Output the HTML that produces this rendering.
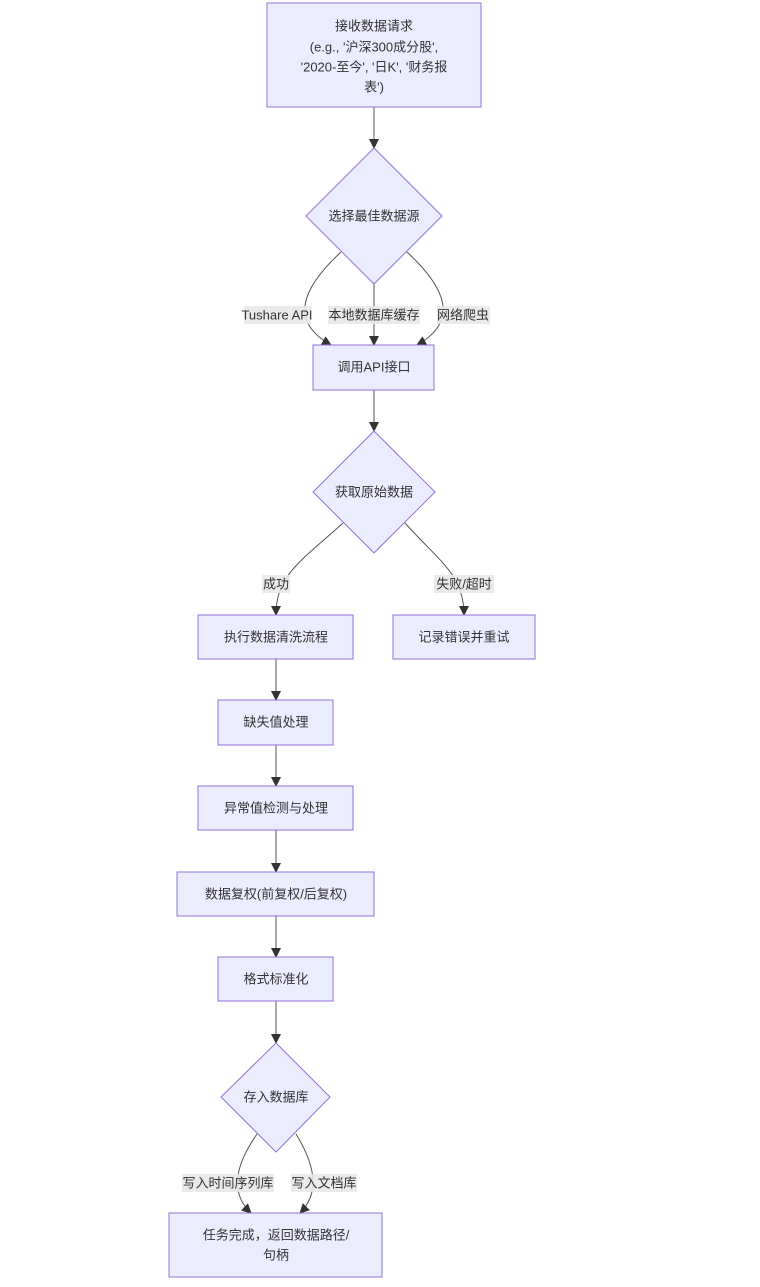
<!DOCTYPE html>
<html><head><meta charset="utf-8"><style>
body{margin:0;background:#fff;}
svg{display:block;}
text{font-family:"Liberation Sans","Noto Sans CJK SC",sans-serif;font-size:13px;fill:#333;text-anchor:middle;dominant-baseline:central;}
.n{fill:#ECECFF;stroke:#9370DB;stroke-width:1;}
.e{fill:none;stroke:#555;stroke-width:1;}
.lb{fill:#e8e8e8;opacity:0.9;}
</style></head><body>
<svg width="760" height="1287" viewBox="0 0 760 1287">
<defs><marker id="a" markerWidth="10" markerHeight="10" refX="9" refY="5" orient="auto" markerUnits="userSpaceOnUse"><path d="M0,0L10,5L0,10z" fill="#333"/></marker></defs>
<!-- edges -->
<path class="e" d="M374,107V148" marker-end="url(#a)"/>
<path class="e" d="M341,252C300,290 290,322 331,345" marker-end="url(#a)"/>
<path class="e" d="M374,284V345" marker-end="url(#a)"/>
<path class="e" d="M407,252C448,290 458,322 417,345" marker-end="url(#a)"/>
<path class="e" d="M374,390V431" marker-end="url(#a)"/>
<path class="e" d="M343,523C300,562 276,575 276,615" marker-end="url(#a)"/>
<path class="e" d="M405,523C440,562 464,575 464,615" marker-end="url(#a)"/>
<path class="e" d="M276,659V700" marker-end="url(#a)"/>
<path class="e" d="M276,745V786" marker-end="url(#a)"/>
<path class="e" d="M276,830V872" marker-end="url(#a)"/>
<path class="e" d="M276,916V957" marker-end="url(#a)"/>
<path class="e" d="M276,1001V1043" marker-end="url(#a)"/>
<path class="e" d="M257,1134C232,1170 232,1195 251,1213" marker-end="url(#a)"/>
<path class="e" d="M296,1134C318,1170 318,1195 300,1213" marker-end="url(#a)"/>
<!-- labels -->
<rect class="lb" x="244" y="306" width="67" height="18"/><text x="277" y="315">Tushare API</text>
<rect class="lb" x="328" y="306" width="92" height="18"/><text x="374" y="315">本地数据库缓存</text>
<rect class="lb" x="437" y="306" width="53" height="18"/><text x="463" y="315">网络爬虫</text>
<rect class="lb" x="262" y="575" width="28" height="18"/><text x="276" y="584">成功</text>
<rect class="lb" x="434" y="575" width="60" height="18"/><text x="464" y="584">失败/超时</text>
<rect class="lb" x="182" y="1174" width="92" height="18"/><text x="228" y="1183">写入时间序列库</text>
<rect class="lb" x="291" y="1174" width="66" height="18"/><text x="324" y="1183">写入文档库</text>
<!-- nodes -->
<rect class="n" x="267" y="3" width="214" height="104"/>
<text x="374" y="26">接收数据请求</text>
<text x="374" y="47">(e.g., '沪深300成分股',</text>
<text x="374" y="67">'2020-至今', '日K', '财务报</text>
<text x="374" y="87">表')</text>
<polygon class="n" points="374,148 442,216 374,284 306,216"/><text x="374" y="216">选择最佳数据源</text>
<rect class="n" x="313" y="345" width="121" height="45"/><text x="374" y="367">调用API接口</text>
<polygon class="n" points="374,431 435,492 374,553 313,492"/><text x="374" y="492">获取原始数据</text>
<rect class="n" x="198" y="615" width="155" height="44"/><text x="276" y="637">执行数据清洗流程</text>
<rect class="n" x="393" y="615" width="142" height="44"/><text x="464" y="637">记录错误并重试</text>
<rect class="n" x="218" y="700" width="115" height="45"/><text x="276" y="722">缺失值处理</text>
<rect class="n" x="198" y="786" width="155" height="44"/><text x="276" y="808">异常值检测与处理</text>
<rect class="n" x="177" y="872" width="197" height="44"/><text x="276" y="894">数据复权(前复权/后复权)</text>
<rect class="n" x="218" y="957" width="115" height="44"/><text x="276" y="979">格式标准化</text>
<polygon class="n" points="276,1043 330,1097 276,1152 221,1097"/><text x="276" y="1097">存入数据库</text>
<rect class="n" x="169" y="1213" width="213" height="64"/>
<text x="276" y="1235">任务完成，返回数据路径/</text>
<text x="276" y="1255">句柄</text>
</svg>
</body></html>
